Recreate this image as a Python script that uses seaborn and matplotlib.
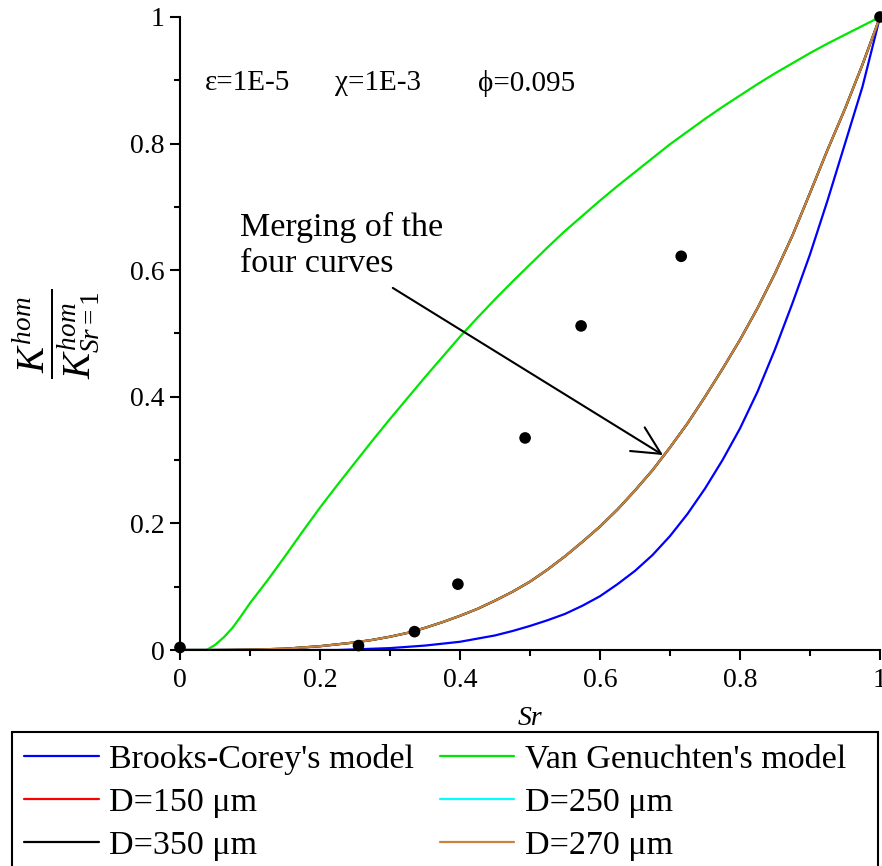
import numpy as np
import pandas as pd
import seaborn as sns
import matplotlib.pyplot as plt
from matplotlib.patches import Rectangle
from matplotlib.ticker import MultipleLocator, FuncFormatter

sns.set_style("ticks")
plt.rcParams['font.family'] = ['Liberation Serif', 'DejaVu Serif']
plt.rcParams['mathtext.fontset'] = 'custom'
plt.rcParams['mathtext.rm'] = 'Liberation Serif'
plt.rcParams['mathtext.it'] = 'Liberation Serif:italic'
plt.rcParams['text.color'] = 'black'
plt.rcParams['axes.labelcolor'] = 'black'

# values
sr = [0.0, 0.025, 0.05, 0.075, 0.1, 0.125, 0.15, 0.175, 0.2, 0.225,
      0.25, 0.275, 0.3, 0.325, 0.35, 0.375, 0.4, 0.425, 0.45, 0.475,
      0.5, 0.525, 0.55, 0.575, 0.6, 0.625, 0.65, 0.675, 0.7, 0.725,
      0.75, 0.775, 0.8, 0.825, 0.85, 0.875, 0.9, 0.925, 0.95, 0.975, 1.0]

brooks_corey = [0.0, 0.0, 0.0, 0.0, 0.0, 0.0, 0.0, 0.0, 0.0, 0.0,
                0.001, 0.002, 0.003, 0.005, 0.007, 0.010, 0.013, 0.018, 0.023, 0.030,
                0.038, 0.047, 0.057, 0.070, 0.085, 0.104, 0.125, 0.150, 0.180, 0.215,
                0.255, 0.300, 0.350, 0.408, 0.475, 0.548, 0.625, 0.710, 0.800, 0.890, 1.0]

merged = [0.0, 0.0, 0.0, 0.0002, 0.0006, 0.0013, 0.002, 0.004, 0.006, 0.009,
          0.012, 0.016, 0.021, 0.027, 0.035, 0.044, 0.054, 0.065, 0.078, 0.092,
          0.108, 0.127, 0.148, 0.171, 0.195, 0.222, 0.252, 0.284, 0.320, 0.358,
          0.400, 0.444, 0.490, 0.540, 0.595, 0.655, 0.722, 0.790, 0.855, 0.925, 1.0]
d150 = list(merged)
d250 = list(merged)
d350 = list(merged)
d270 = list(merged)

sr_vg = [0.0, 0.038, 0.05, 0.0625, 0.075, 0.0875, 0.1, 0.125, 0.15, 0.175, 0.2, 0.225,
         0.25, 0.275, 0.3, 0.325, 0.35, 0.375, 0.4, 0.425, 0.45, 0.475,
         0.5, 0.525, 0.55, 0.575, 0.6, 0.625, 0.65, 0.675, 0.7, 0.725,
         0.75, 0.775, 0.8, 0.825, 0.85, 0.875, 0.9, 0.925, 0.95, 0.975, 1.0]
van_genuchten = [0.0, 0.0, 0.008, 0.020, 0.035, 0.054, 0.074, 0.110, 0.148, 0.187, 0.225, 0.261,
                 0.296, 0.331, 0.365, 0.398, 0.431, 0.463, 0.495, 0.525, 0.554, 0.582,
                 0.609, 0.636, 0.662, 0.686, 0.710, 0.733, 0.755, 0.777, 0.799, 0.819,
                 0.839, 0.858, 0.876, 0.894, 0.911, 0.927, 0.943, 0.958, 0.972, 0.986, 1.0]

exp_sr = [0.0, 0.255, 0.335, 0.397, 0.493, 0.573, 0.716, 1.0]
exp_k = [0.004, 0.007, 0.029, 0.104, 0.335, 0.512, 0.622, 1.0]

fig = plt.figure(figsize=(8.82, 8.66), dpi=100)
ax = fig.add_axes([180 / 882, 1 - 650 / 866, 700 / 882, 633 / 866])

lw = 1.6
sns.lineplot(x=sr, y=brooks_corey, color='#0000FF', lw=lw, label="Brooks-Corey's model", ax=ax)
sns.lineplot(x=sr_vg, y=van_genuchten, color='#00E600', lw=lw, label="Van Genuchten's model", ax=ax)
sns.lineplot(x=sr, y=d150, color='#FF0000', lw=lw, label="D=150 μm", ax=ax)
sns.lineplot(x=sr, y=d250, color='#00FFFF', lw=lw, label="D=250 μm", ax=ax)
sns.lineplot(x=sr, y=d350, color='black', lw=lw, label="D=350 μm", ax=ax)
sns.lineplot(x=sr, y=d270, color='#C8823C', lw=lw, label="D=270 μm", ax=ax)
sns.scatterplot(x=exp_sr, y=exp_k, color='black', s=70, edgecolor='none', zorder=5,
                clip_on=False, ax=ax)

ax.set_xlim(0, 1)
ax.set_ylim(0, 1)
sns.despine(ax=ax)
for s in ['left', 'bottom']:
    ax.spines[s].set_linewidth(1.5)
    ax.spines[s].set_color('black')

ax.xaxis.set_major_locator(MultipleLocator(0.2))
ax.xaxis.set_minor_locator(MultipleLocator(0.1))
ax.yaxis.set_major_locator(MultipleLocator(0.2))
ax.yaxis.set_minor_locator(MultipleLocator(0.1))
fmt = FuncFormatter(lambda v, p: f"{v:g}")
ax.xaxis.set_major_formatter(fmt)
ax.yaxis.set_major_formatter(fmt)
ax.tick_params(which='major', length=7, width=1.5, labelsize=20, colors='black', pad=4)
ax.tick_params(axis='x', which='major', pad=6)
ax.tick_params(which='minor', length=4, width=1.5, colors='black')

ax.set_xlabel('Sr', fontsize=20, style='italic', labelpad=9)
ax.set_ylabel(r'$\dfrac{K^{hom}}{K^{hom}_{Sr=1}}$', fontsize=28, labelpad=20)

ax.text(0.036, 0.895, 'ε=1E-5', fontsize=21, va='center')
ax.text(0.221, 0.895, 'χ=1E-3', fontsize=21, va='center')
ax.text(0.426, 0.895, 'ϕ=0.095', fontsize=21, va='center')

ax.text(0.086, 0.692, 'Merging of the\nfour curves', fontsize=24.5, va='top',
        linespacing=1.25)
ax.annotate('', xy=(0.69, 0.308), xytext=(0.304, 0.572),
            arrowprops=dict(arrowstyle='->,head_length=1.0,head_width=0.5',
                            color='black', lw=1.5, mutation_scale=20,
                            shrinkA=0, shrinkB=0))

# legend box runs past the bottom edge of the figure, as in the source image
fig.patches.append(Rectangle((12 / 882, -0.05), 866 / 882, (866 - 732) / 866 + 0.05,
                             transform=fig.transFigure, facecolor='white',
                             edgecolor='black', lw=1.5, zorder=2))

handles, labels = ax.get_legend_handles_labels()
ax.get_legend().remove()
order = [0, 2, 4, 1, 3, 5]
leg = fig.legend([handles[i] for i in order], [labels[i] for i in order],
                 loc='upper left', bbox_to_anchor=(12 / 882, 1 - 732 / 866),
                 ncol=2, fontsize=24.5, handlelength=2.2, columnspacing=0.75,
                 handletextpad=0.3, borderpad=0.35, labelspacing=0.36,
                 borderaxespad=0, frameon=False, labelcolor='black')
leg.set_zorder(3)

fig.savefig('out.png', dpi=100)
